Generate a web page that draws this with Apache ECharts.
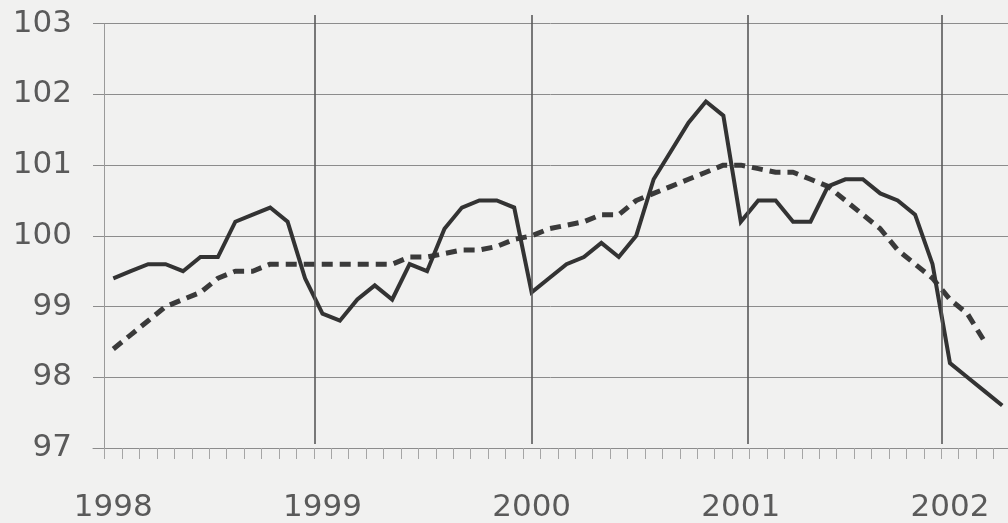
<!DOCTYPE html>
<html>
<head>
<meta charset="utf-8">
<script src="https://cdn.jsdelivr.net/npm/echarts@6/dist/echarts.min.js"></script>
<style>
html,body{margin:0;padding:0;background:#f1f1f0;}
#chart{width:1008px;height:523px;}
</style>
</head>
<body>
<div id="chart"></div>
<script>
// ---- data (monthly, Jan 1998 .. Apr 2002) ----
const yearLabels = ['1998', '1999', '2000', '2001', '2002'];
const yTicks = [97, 98, 99, 100, 101, 102, 103];
// solid line (monthly index values)
const actual = [
  99.4, 99.5, 99.6, 99.6, 99.5, 99.7, 99.7, 100.2, 100.3, 100.4, 100.2, 99.4,
  98.9, 98.8, 99.1, 99.3, 99.1, 99.6, 99.5, 100.1, 100.4, 100.5, 100.5, 100.4,
  99.2, 99.4, 99.6, 99.7, 99.9, 99.7, 100.0, 100.8, 101.2, 101.6, 101.9, 101.7,
  100.2, 100.5, 100.5, 100.2, 100.2, 100.7, 100.8, 100.8, 100.6, 100.5, 100.3, 99.6,
  98.2, 98.0, 97.8, 97.6
];
// dashed line (trend)
const trend = [
  98.4, 98.6, 98.8, 99.0, 99.1, 99.2, 99.4, 99.5, 99.5, 99.6, 99.6, 99.6,
  99.6, 99.6, 99.6, 99.6, 99.6, 99.7, 99.7, 99.75, 99.8, 99.8, 99.85, 99.95,
  100.0, 100.1, 100.15, 100.2, 100.3, 100.3, 100.5, 100.6, 100.7, 100.8, 100.9, 101.0,
  101.0, 100.95, 100.9, 100.9, 100.8, 100.7, 100.5, 100.3, 100.1, 99.8, 99.6, 99.4,
  99.1, 98.9, 98.5
];
// positions (in months from start of 1998) of the vertical year rules
const yearRules = [12.07, 24.5, 36.9, 48.04];

// ---- layout ----
const W = 1008, H = 523;
const plotLeft = 93, plotTop = 23.7, plotBottomPx = 452.3;
const monthPx = 17.43, month0Px = 104.6;
const unitPx = (plotBottomPx - plotTop) / 6;
const xMin = (plotLeft - month0Px) / monthPx;
const xMax = (W - month0Px) / monthPx;
const ruleTop = 15, ruleBottom = 444;

const FONT = 'DejaVu Sans';
const TXT = '#5a5a5a';

const monthTicks = actual.map((_, i) => i);
const labelPos = yearLabels.map((_, k) => k * 12 + 0.5);

const chart = echarts.init(document.getElementById('chart'), null, {renderer: 'canvas'});
chart.setOption({
  backgroundColor: '#f1f1f0',
  animation: false,
  grid: [
    {left: plotLeft, right: 0, top: plotTop, bottom: H - plotBottomPx},
    {left: plotLeft, right: 0, top: ruleTop, bottom: H - ruleBottom}
  ],
  xAxis: [
    {
      type: 'value', gridIndex: 0, min: xMin, max: xMax,
      splitLine: {show: false},
      axisLine: {show: true, lineStyle: {color: '#8c8c8c', width: 1}},
      axisTick: {show: true, length: 11, customValues: monthTicks, lineStyle: {color: '#a5a5a5', width: 1}},
      axisLabel: {
        show: true, customValues: labelPos, margin: 44,
        fontFamily: FONT, fontSize: 31, color: TXT,
        formatter: v => { const k = Math.round((v - 0.5) / 12); return yearLabels[k] || ''; }
      }
    },
    {
      type: 'value', gridIndex: 1, min: xMin, max: xMax, show: false
    }
  ],
  yAxis: [
    {
      type: 'value', gridIndex: 0, min: 97, max: 103, interval: 1,
      axisLine: {show: false}, axisTick: {show: false},
      splitLine: {show: true, lineStyle: {color: '#8c8c8c', width: 1}},
      axisLabel: {
        margin: 21, fontFamily: FONT, fontSize: 31, color: TXT,
        formatter: v => (yTicks.indexOf(v) >= 0 ? String(v) : '')
      }
    },
    {
      type: 'value', gridIndex: 1,
      min: 97 + (plotBottomPx - ruleBottom) / unitPx,
      max: 103 + (plotTop - ruleTop) / unitPx,
      show: false
    }
  ],
  series: [
    {
      type: 'line', xAxisIndex: 1, yAxisIndex: 1, data: [],
      silent: true, showSymbol: false,
      markLine: {
        silent: true, symbol: 'none', label: {show: false},
        lineStyle: {color: '#5a5a5a', width: 1.6, type: 'solid'},
        emphasis: {disabled: true},
        data: yearRules.map(m => ({xAxis: m}))
      }
    },
    {
      name: 'trend', type: 'line', xAxisIndex: 0, yAxisIndex: 0,
      data: trend.map((v, i) => [i + 0.5, v]),
      showSymbol: false, symbol: 'none', silent: true, clip: false,
      lineStyle: {color: '#3a3a3a', width: 5, type: [11, 7], cap: 'butt'},
      z: 3
    },
    {
      name: 'actual', type: 'line', xAxisIndex: 0, yAxisIndex: 0,
      data: actual.map((v, i) => [i + 0.5, v]),
      showSymbol: false, symbol: 'none', silent: true, clip: false,
      lineStyle: {color: '#333333', width: 4, join: 'miter'},
      markLine: {
        silent: true, symbol: 'none', label: {show: false},
        lineStyle: {color: '#9a9a9a', width: 1, type: 'solid'},
        emphasis: {disabled: true},
        data: [{xAxis: 0}]
      },
      z: 4
    }
  ]
});
</script>
</body>
</html>
